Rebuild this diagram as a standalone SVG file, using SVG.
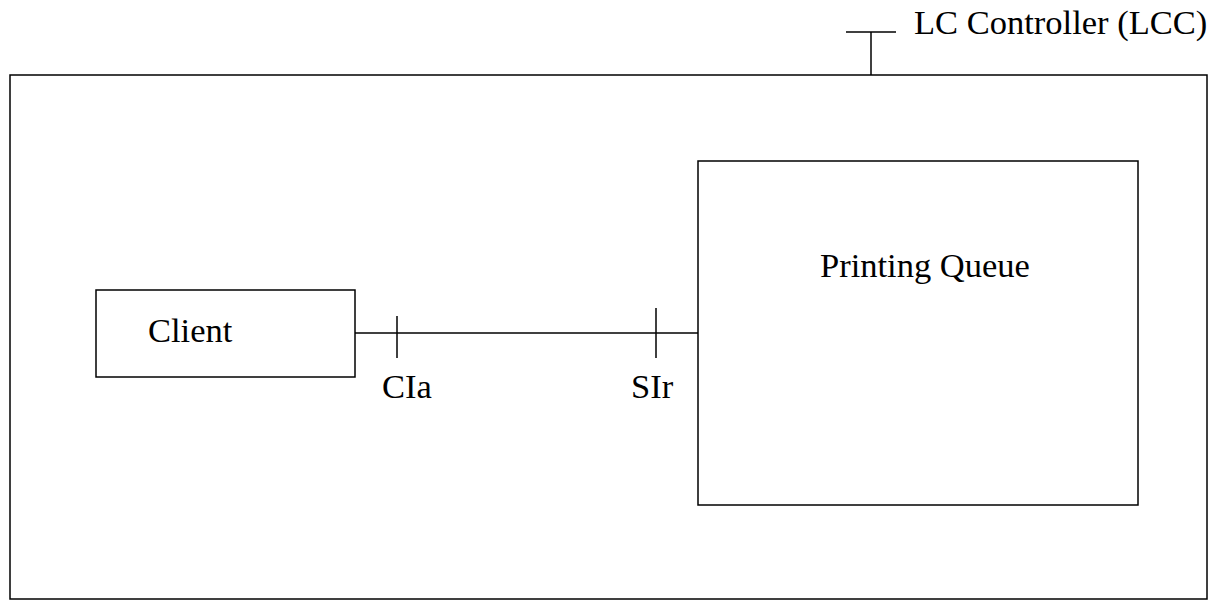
<svg xmlns="http://www.w3.org/2000/svg" width="1218" height="601" viewBox="0 0 1218 601">
<style>
.s{fill:none;stroke:#000;stroke-width:1.5}
.b{fill:#fff;stroke:#000;stroke-width:1.5}
.t{font-family:"Liberation Serif",serif;font-size:34.5px;fill:#000}
</style>
<rect width="1218" height="601" fill="#fff"/>
<g id="lcc">
<rect class="b" x="10" y="75" width="1197" height="524"/>
<line class="s" x1="846" y1="32" x2="896" y2="32"/>
<line class="s" x1="871" y1="32" x2="871" y2="75"/>
<text class="t" x="914" y="34">LC Controller (LCC)</text>
</g>
<g id="client">
<rect class="b" x="96" y="290" width="259" height="87"/>
<text class="t" x="148" y="342">Client</text>
</g>
<g id="queue">
<rect class="b" x="698" y="161" width="440" height="344"/>
<text class="t" x="820" y="277">Printing Queue</text>
</g>
<g id="connectors">
<line class="s" x1="355" y1="333" x2="698" y2="333"/>
<line class="s" x1="397" y1="316" x2="397" y2="358"/>
<line class="s" x1="656" y1="308" x2="656" y2="358"/>
<text class="t" x="382" y="398">CIa</text>
<text class="t" x="631" y="398">SIr</text>
</g>
</svg>
